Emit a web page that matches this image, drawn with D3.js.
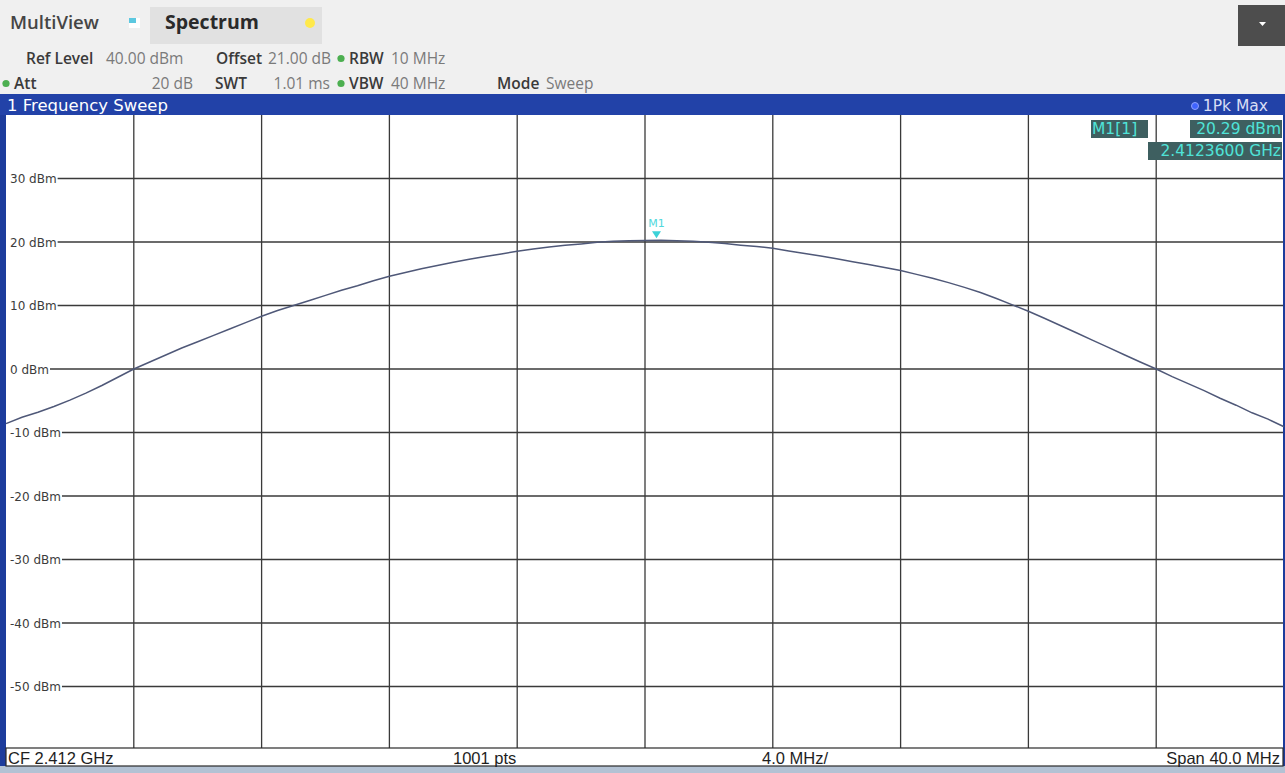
<!DOCTYPE html>
<html>
<head>
<meta charset="utf-8">
<script src="https://cdn.jsdelivr.net/npm/d3@7"></script>
<style>
  html, body { margin: 0; padding: 0; background: #f0f0f0; }
  svg { display: block; }
</style>
</head>
<body>
<svg id="screen" width="1285" height="773"></svg>
<script>
// Sweep settings
const centerGHz = 2.412;
const spanMHz = 40;
const sweepStartGHz = 2.392;
const sweepStepGHz = 0.0005;

// Trace 1 (1Pk Max), level in dBm every 0.5 MHz from 2.392 GHz to 2.432 GHz
const traceLevels = [
  -8.6, -7.6, -6.8, -5.9, -4.9, -3.8, -2.6, -1.3, 0.0, 1.1,
  2.2, 3.3, 4.3, 5.3, 6.3, 7.3, 8.3, 9.2, 10.0, 10.8,
  11.6, 12.4, 13.1, 13.9, 14.6, 15.2, 15.8, 16.3, 16.8, 17.3,
  17.7, 18.1, 18.55, 18.9, 19.2, 19.5, 19.7, 19.95, 20.1, 20.2,
  20.25, 20.28, 20.2, 20.1, 19.95, 19.75, 19.5, 19.3, 19.0, 18.6,
  18.2, 17.8, 17.35, 16.9, 16.45, 16.0, 15.5, 14.9, 14.3, 13.6,
  12.85, 12.05, 11.1, 10.1, 9.1, 8.0, 6.85, 5.7, 4.55, 3.4,
  2.25, 1.1, 0.0, -1.2, -2.3, -3.4, -4.6, -5.7, -6.9, -7.9,
  -9.1
];

// Marker M1
const markerFreqGHz = 2.41236;
const markerLevel = 20.29;

// Grid
const levelTicks = [30, 20, 10, 0, -10, -20, -30, -40, -50];
const freqGrid = [2.396, 2.400, 2.404, 2.408, 2.412, 2.416, 2.420, 2.424, 2.428];

// Setting readouts
const settingsRow1 = [
  { label: "Ref Level", x: 26, value: "40.00 dBm", vx: 106 },
  { label: "Offset", x: 216, value: "21.00 dB", vx: 268 },
  { label: "RBW", x: 349, value: "10 MHz", vx: 391, dot: true }
];
const settingsRow2 = [
  { label: "Att", x: 14, value: "20 dB", vend: 193, dot: true },
  { label: "SWT", x: 215, value: "1.01 ms", vend: 330 },
  { label: "VBW", x: 349, value: "40 MHz", vx: 391, dot: true },
  { label: "Mode", x: 497, value: "Sweep", vx: 546 }
];
const footerTexts = ["CF 2.412 GHz", "1001 pts", "4.0 MHz/", "Span 40.0 MHz"];

const svg = d3.select("#screen");
const W = 1285, H = 773;

const plot = { left: 6, right: 1284, top: 115, bottom: 748 };

const x = d3.scaleLinear()
  .domain([centerGHz - spanMHz / 2000, centerGHz + spanMHz / 2000])
  .range([plot.left, plot.right]);
const y = d3.scaleLinear()
  .domain([-60, 40])
  .range([plot.top + 635, plot.top]);

// ---------- top bar ----------
svg.append("rect").attr("x", 0).attr("y", 0).attr("width", W).attr("height", H).attr("fill", "#f0f0f0");

const uiFont = "'Open Sans', 'Noto Sans', sans-serif";
svg.append("text").attr("x", 10).attr("y", 29)
  .attr("font-family", uiFont).attr("font-size", 18.5).attr("font-weight", 600)
  .attr("fill", "#454545").text("MultiView");

// MultiView icon
svg.append("rect").attr("x", 129).attr("y", 18).attr("width", 11).attr("height", 10).attr("fill", "#ffffff");
svg.append("rect").attr("x", 129).attr("y", 18).attr("width", 7).attr("height", 5).attr("fill", "#5cc8e0");

// Spectrum tab
svg.append("rect").attr("x", 150).attr("y", 7).attr("width", 172).attr("height", 37).attr("fill", "#e1e1e1");
svg.append("text").attr("x", 165).attr("y", 29)
  .attr("font-family", uiFont).attr("font-size", 19.5).attr("font-weight", 700)
  .attr("fill", "#2a2a2a").text("Spectrum");
svg.append("circle").attr("cx", 310).attr("cy", 23).attr("r", 5).attr("fill", "#ffe94a");

// dropdown button
svg.append("rect").attr("x", 1238).attr("y", 5).attr("width", 47).attr("height", 41).attr("fill", "#4d4d4d");
svg.append("path").attr("d", "M1259,22 L1266,22 L1262.5,26 Z").attr("fill", "#ffffff");

function settingsRow(items, baseline) {
  items.forEach(d => {
    const g = svg.append("g");
    if (d.dot) {
      g.append("circle").attr("cx", d.x - 8).attr("cy", baseline - 5.5).attr("r", 3.6).attr("fill", "#4caf50");
    }
    g.append("text").attr("x", d.x).attr("y", baseline)
      .attr("font-family", uiFont).attr("font-size", 15.5).attr("font-weight", 600)
      .attr("fill", "#3a3a3a").text(d.label);
    const v = g.append("text").attr("y", baseline)
      .attr("font-family", uiFont).attr("font-size", 15.5)
      .attr("fill", "#7a7a7a").text(d.value);
    if (d.vend) v.attr("x", d.vend).attr("text-anchor", "end");
    else v.attr("x", d.vx);
  });
}
settingsRow(settingsRow1, 64);
settingsRow(settingsRow2, 89);

// ---------- window title bar ----------
svg.append("rect").attr("x", 0).attr("y", 94).attr("width", W).attr("height", 22).attr("fill", "#2242a8");
svg.append("text").attr("x", 7).attr("y", 111)
  .attr("font-family", "'DejaVu Sans', sans-serif").attr("font-size", 16.5)
  .attr("fill", "#ffffff").text("1 Frequency Sweep");
svg.append("text").attr("x", 1268).attr("y", 111).attr("text-anchor", "end")
  .attr("font-family", "'DejaVu Sans', sans-serif").attr("font-size", 15.5)
  .attr("fill", "#d8def5").text("1Pk Max");
svg.append("circle").attr("cx", 1195).attr("cy", 106).attr("r", 3.5)
  .attr("fill", "#3f63ff").attr("stroke", "#8fa2ff").attr("stroke-width", 1);

// ---------- plot area ----------
svg.append("rect").attr("x", 0).attr("y", plot.top).attr("width", W).attr("height", plot.bottom - plot.top + 20)
  .attr("fill", "#1d3c9c");
svg.append("rect").attr("x", plot.left).attr("y", plot.top)
  .attr("width", plot.right - plot.left - 1).attr("height", plot.bottom - plot.top)
  .attr("fill", "#ffffff");

const gridColor = "#3a3a3a";

// vertical grid
svg.append("g").selectAll("line").data(freqGrid).join("line")
  .attr("x1", d => x(d)).attr("x2", d => x(d))
  .attr("y1", plot.top).attr("y2", plot.bottom)
  .attr("stroke", gridColor).attr("stroke-width", 1.3);

// horizontal grid, starting right after each level label
const yg = svg.append("g");
levelTicks.forEach(v => {
  const yy = y(v);
  const t = yg.append("text").attr("x", 10).attr("y", yy + 4.5)
    .attr("font-family", "'DejaVu Sans', sans-serif").attr("font-size", 12)
    .attr("fill", "#3c3c3c").text(v + " dBm");
  const w = t.node().getComputedTextLength();
  yg.append("line").attr("x1", 10 + w + 1).attr("x2", plot.right - 1)
    .attr("y1", yy).attr("y2", yy)
    .attr("stroke", gridColor).attr("stroke-width", 1.3);
});

// trace
const line = d3.line()
  .x((d, i) => x(sweepStartGHz + i * sweepStepGHz))
  .y(d => y(d));
svg.append("path").datum(traceLevels)
  .attr("d", line)
  .attr("fill", "none")
  .attr("stroke", "#4f5878")
  .attr("stroke-width", 1.5);

// marker M1
const mx = x(markerFreqGHz), my = y(markerLevel);
svg.append("path")
  .attr("d", `M${mx - 4.5},${my - 9} L${mx + 4.5},${my - 9} L${mx},${my - 2} Z`)
  .attr("fill", "#3cd2d8");
svg.append("text").attr("x", mx).attr("y", my - 13).attr("text-anchor", "middle")
  .attr("font-family", "'DejaVu Sans', sans-serif").attr("font-size", 11)
  .attr("fill", "#50d8dc").text("M1");

// marker readout
const readFont = "'DejaVu Sans', sans-serif";
function readBox(x0, y0, w, h, txt, anchorEnd, size) {
  svg.append("rect").attr("x", x0).attr("y", y0).attr("width", w).attr("height", h).attr("fill", "#3e5f60");
  svg.append("text").attr("x", anchorEnd ? x0 + w - 1 : x0 + 1).attr("y", y0 + h - 4)
    .attr("text-anchor", anchorEnd ? "end" : "start")
    .attr("font-family", readFont).attr("font-size", size)
    .attr("fill", "#4fe3d8").text(txt);
}
readBox(1091, 120, 57, 18, "M1[1]", false, 15.5);
readBox(1190, 120, 92, 18, markerLevel.toFixed(2) + " dBm", true, 15.5);
readBox(1148, 142, 134, 18, (markerFreqGHz).toFixed(7) + " GHz", true, 15.5);

// ---------- footer ----------
svg.append("rect").attr("x", 0).attr("y", 766).attr("width", W).attr("height", 7).attr("fill", "#b3c2d4");
svg.append("rect").attr("x", 6).attr("y", 748).attr("width", 1277).attr("height", 18)
  .attr("fill", "#ffffff").attr("stroke", "#2a2a2a").attr("stroke-width", 1.2);
const footFont = "'Liberation Sans', Arial, sans-serif";
const footPos = [
  { x: 8, anchor: "start" },
  { x: 453, anchor: "start" },
  { x: 762, anchor: "start" },
  { x: 1280, anchor: "end" }
];
svg.append("g").selectAll("text").data(footerTexts).join("text")
  .attr("x", (d, i) => footPos[i].x)
  .attr("y", 764)
  .attr("text-anchor", (d, i) => footPos[i].anchor)
  .attr("font-family", footFont).attr("font-size", 16.5)
  .attr("fill", "#1e1e1e")
  .text(d => d);
</script>
</body>
</html>
